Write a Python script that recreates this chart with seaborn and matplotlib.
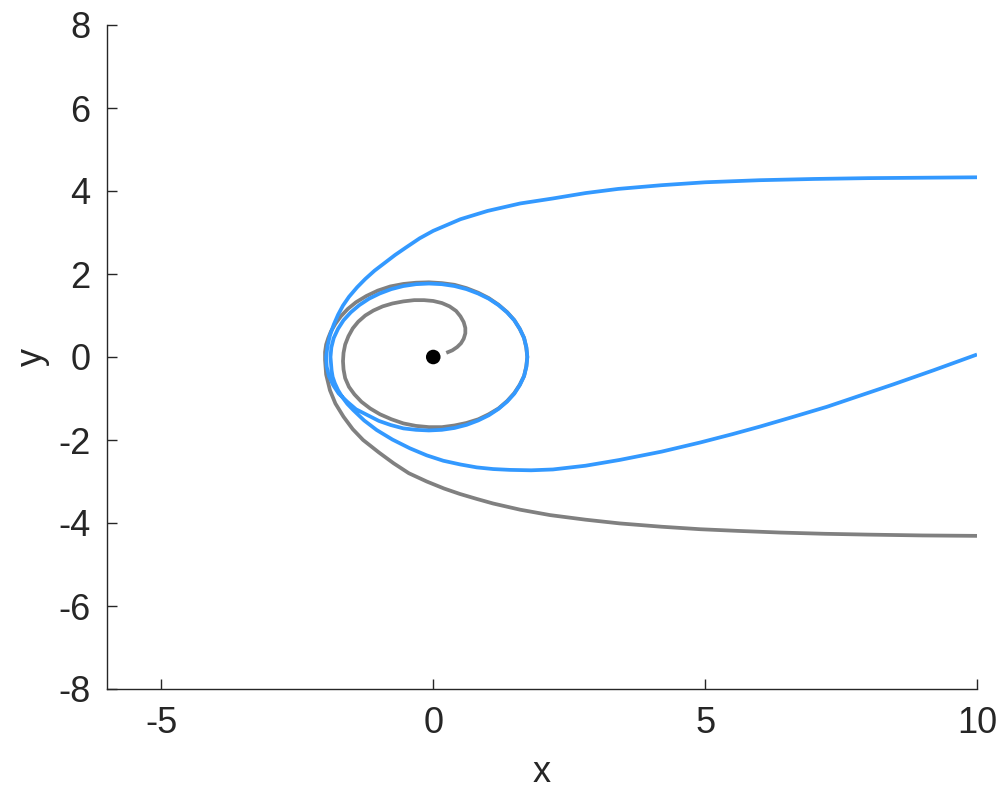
import numpy as np
import pandas as pd
import seaborn as sns
from matplotlib import pyplot as plt

# escaping path (blue): in from the right, one turn, back out
blue_x = [10.0, 9.0, 8.0, 7.0, 6.0, 5.0, 4.2, 3.4, 2.8, 2.2, 1.6, 1.0, 0.5, 0.0, -0.25,
          -0.5, -0.7, -0.9, -1.08, -1.25, -1.40, -1.55, -1.66, -1.75, -1.83, -1.9, -1.945, -1.97,
          -1.96, -1.92, -1.84, -1.74, -1.58, -1.42, -1.21, -1.00, -0.78, -0.55, -0.316, -0.08,
          0.156, 0.39, 0.613, 0.825, 1.022, 1.20, 1.356, 1.49, 1.592, 1.67, 1.714, 1.73,
          1.714, 1.67, 1.592, 1.49, 1.356, 1.20, 1.022, 0.825, 0.613, 0.39, 0.156, -0.08,
          -0.316, -0.55, -0.773, -0.985, -1.182, -1.36, -1.516, -1.65, -1.752, -1.83, -1.874, -1.89,
          -1.87, -1.85, -1.81, -1.75, -1.67, -1.58, -1.47, -1.27, -1.04, -0.75, -0.43, -0.12,
          0.185, 0.5, 0.80, 1.1, 1.41, 1.8, 2.2, 2.8, 3.43, 4.2, 4.91, 5.5, 6.0, 6.6, 7.24,
          7.85, 8.46, 9.2, 10.0]
blue_y = [4.33, 4.32, 4.31, 4.29, 4.26, 4.21, 4.14, 4.05, 3.95, 3.82, 3.70, 3.52, 3.32, 3.04, 2.86,
          2.64, 2.46, 2.26, 2.08, 1.88, 1.68, 1.45, 1.24, 1.02, 0.78, 0.52, 0.26, 0.0,
          -0.23, -0.46, -0.68, -0.88, -1.08, -1.26, -1.40, -1.54, -1.64, -1.72, -1.755, -1.77,
          -1.755, -1.71, -1.635, -1.53, -1.404, -1.25, -1.077, -0.885, -0.677, -0.46, -0.231, 0.0,
          0.231, 0.46, 0.677, 0.885, 1.077, 1.25, 1.404, 1.53, 1.635, 1.71, 1.755, 1.77,
          1.755, 1.71, 1.635, 1.53, 1.404, 1.25, 1.077, 0.885, 0.677, 0.458, 0.231, 0.0,
          -0.32, -0.48, -0.63, -0.80, -0.97, -1.13, -1.28, -1.53, -1.76, -1.99, -2.20, -2.37,
          -2.50, -2.59, -2.66, -2.70, -2.72, -2.73, -2.71, -2.62, -2.48, -2.28, -2.06, -1.86,
          -1.68, -1.45, -1.20, -0.93, -0.66, -0.32, 0.06]

# captured path (gray), spirals into the centre
gray_x = [10.0, 9.0, 8.0, 7.2, 6.38, 5.6, 4.91, 4.2, 3.43, 2.8, 2.15, 1.60, 1.10, 0.8, 0.49, 0.2,
          -0.12, -0.45, -0.73, -1.0, -1.29, -1.48, -1.65, -1.80, -1.90, -1.97, -1.99,
          -1.99, -1.97, -1.93, -1.88, -1.80, -1.70, -1.57, -1.42, -1.23, -1.02, -0.79, -0.55,
          -0.32, -0.08, 0.16, 0.39, 0.61, 0.825, 1.02, 1.20, 1.36, 1.49, 1.59, 1.67, 1.71, 1.73,
          1.71, 1.67, 1.59, 1.49, 1.36, 1.20, 1.02, 0.83, 0.61, 0.39, 0.16, -0.08, -0.32,
          -0.55, -0.77, -0.98, -1.16, -1.32, -1.45, -1.55, -1.62, -1.65, -1.66,
          -1.65, -1.62, -1.56, -1.48, -1.38, -1.25, -1.10, -0.93, -0.75, -0.55, -0.35, -0.17,
          0.0, 0.16, 0.30, 0.42, 0.50, 0.56, 0.59, 0.59, 0.56, 0.51, 0.44, 0.35, 0.24]
gray_y = [-4.31, -4.30, -4.28, -4.26, -4.23, -4.19, -4.15, -4.09, -4.01, -3.92, -3.81, -3.68, -3.53,
          -3.42, -3.30, -3.17, -3.00, -2.80, -2.56, -2.30, -2.00, -1.74, -1.44, -1.12, -0.80, -0.42, -0.07,
          0.12, 0.30, 0.46, 0.62, 0.80, 0.98, 1.16, 1.32, 1.47, 1.60, 1.70, 1.76,
          1.79, 1.80, 1.78, 1.74, 1.66, 1.55, 1.42, 1.26, 1.08, 0.89, 0.68, 0.46, 0.23, 0.0,
          -0.23, -0.46, -0.67, -0.87, -1.06, -1.24, -1.38, -1.50, -1.59, -1.65, -1.69, -1.69, -1.66,
          -1.60, -1.50, -1.38, -1.24, -1.08, -0.90, -0.72, -0.51, -0.30, -0.10,
          0.10, 0.30, 0.50, 0.69, 0.85, 1.00, 1.12, 1.22, 1.29, 1.34, 1.37, 1.37,
          1.35, 1.30, 1.22, 1.11, 0.98, 0.84, 0.70, 0.57, 0.44, 0.33, 0.24, 0.16, 0.10]

centre_x = [0.0]
centre_y = [0.0]

x_ticks = [-5, 0, 5, 10]
y_ticks = [-8, -6, -4, -2, 0, 2, 4, 6, 8]

sns.set_style("ticks")
plt.rcParams['font.family'] = ['Liberation Sans', 'DejaVu Sans']
plt.rcParams['axes.unicode_minus'] = False

fig = plt.figure(figsize=(10, 8), dpi=100)
ax = fig.add_axes([0.107, 0.13875, 0.87, 0.83])

blue_df = pd.DataFrame({'x': blue_x, 'y': blue_y})
gray_df = pd.DataFrame({'x': gray_x, 'y': gray_y})
sns.lineplot(data=gray_df, x='x', y='y', sort=False, estimator=None, ax=ax,
             color='#808080', linewidth=2.7, solid_joinstyle='round', solid_capstyle='butt')
sns.lineplot(data=blue_df, x='x', y='y', sort=False, estimator=None, ax=ax,
             color='#3399ff', linewidth=2.7, solid_joinstyle='round', solid_capstyle='butt')
sns.scatterplot(x=centre_x, y=centre_y, ax=ax, color='black', s=110, edgecolor='none', zorder=5)

ax.set_xlim(-6, 10)
ax.set_ylim(-8, 8)
ax.set_xticks(x_ticks)
ax.set_yticks(y_ticks)
ax.set_xlabel('x', fontsize=26, color='#262626', labelpad=10)
ax.set_ylabel('y', fontsize=26, color='#262626', labelpad=6)
ax.tick_params(direction='in', length=7, width=1, colors='#262626', labelsize=26, pad=12)
for side in ['top', 'right']:
    ax.spines[side].set_visible(False)
for side in ['left', 'bottom']:
    ax.spines[side].set_color('#262626')
    ax.spines[side].set_linewidth(1)

fig.savefig('out.png', dpi=100)
